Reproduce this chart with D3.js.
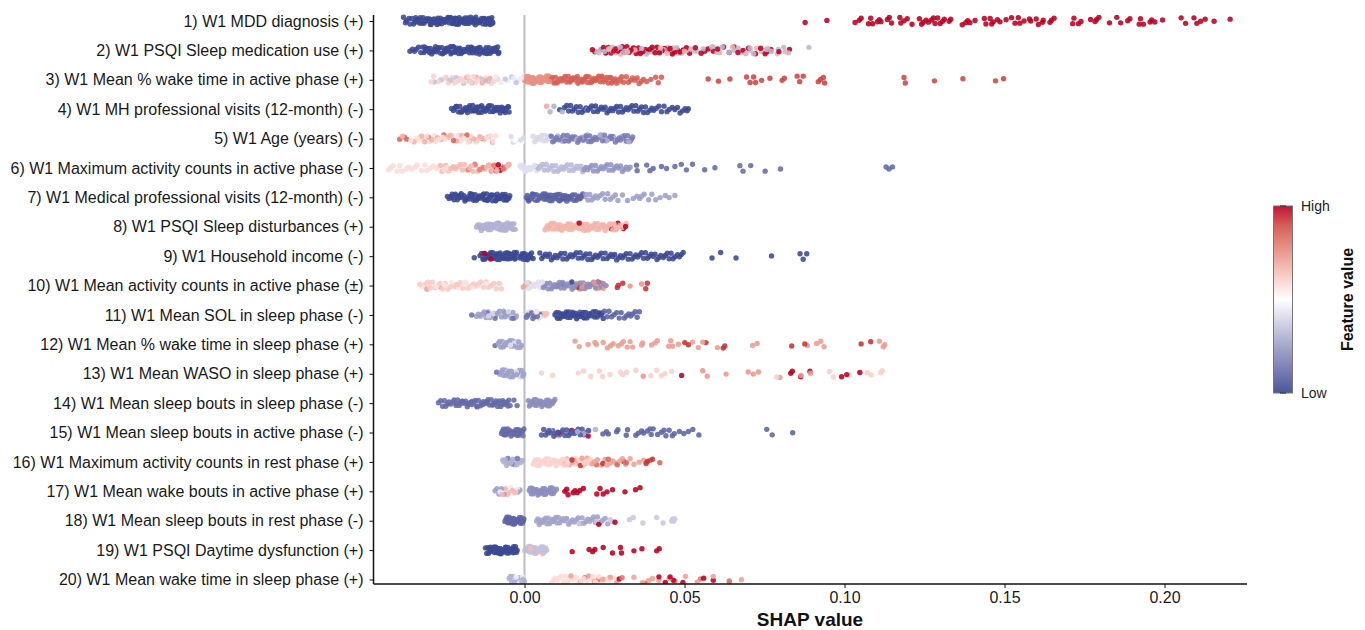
<!DOCTYPE html>
<html lang="en">
<head>
<meta charset="UTF-8">
<title>SHAP summary</title>
<script src="https://d3js.org/d3.v7.min.js"></script>
<style>
  body { margin: 0; background: #fff; font-family: "Liberation Sans", Arial, sans-serif; }
  .tick text { font-size: 16px; fill: #1a1a1a; }
  .domain, .tick line { stroke: #111; }
</style>
</head>
<body>
<script>
const labels = [
  "1) W1 MDD diagnosis (+)",
  "2) W1 PSQI Sleep medication use (+)",
  "3) W1 Mean % wake time in active phase (+)",
  "4) W1 MH professional visits (12-month) (-)",
  "5) W1 Age (years) (-)",
  "6) W1 Maximum activity counts in active phase (-)",
  "7) W1 Medical professional visits (12-month) (-)",
  "8) W1 PSQI Sleep disturbances (+)",
  "9) W1 Household income (-)",
  "10) W1 Mean activity counts in active phase (±)",
  "11) W1 Mean SOL in sleep phase (-)",
  "12) W1 Mean % wake time in sleep phase (+)",
  "13) W1 Mean WASO in sleep phase (+)",
  "14) W1 Mean sleep bouts in sleep phase (-)",
  "15) W1 Mean sleep bouts in active phase (-)",
  "16) W1 Maximum activity counts in rest phase (+)",
  "17) W1 Mean wake bouts in active phase (+)",
  "18) W1 Mean sleep bouts in rest phase (-)",
  "19) W1 PSQI Daytime dysfunction (+)",
  "20) W1 Mean wake time in sleep phase (+)"
];
const xTicks = [0, 0.05, 0.10, 0.15, 0.20];

// each row: [feature value 0-1, [shap values x 10000]]
const row01 = [
  [0, [-378,-372,-369,-361,-358,-352,-347,-343,-338,-335,-330,-326,-321,-317,-314,-309,-305,-300,-297,-292,-288,-284,-279,-276,-271,-268,-263,-259,-255,-251,-247,-243,-239,-235,-231,-227,-222,-219,-214,-211,-206,-203,-198,-195,-190,-186,-182,-178,-174,-170,-166,-162,-158,-154,-150,-146,-142,-138,-134,-130,-126,-122,-118,-114,-110,-106,-102,-99]],
  [0, [-340,-328,-315,-303,-294,-283,-274,-265,-257,-249,-241,-233,-225,-217,-209,-201,-193,-184,-176,-168,-160,-152,-144,-136,-128,-120,-112,-104,-100,-290,-272,-253,-237,-220,-204,-188,-172,-156,-140,-124,-108]],
  [1, [877,945,1033,1046,1052,1075,1082,1088,1103,1109,1114,1134,1140,1147,1173,1176,1186,1196,1211,1234,1241,1246,1255,1262,1272,1278,1283,1291,1299,1307,1312,1327,1332,1368,1379,1385,1392,1408,1437,1442,1455,1460,1465,1478,1486,1505,1522,1533,1543,1548,1561,1578,1582,1599,1606,1619,1621,1642,1647,1655,1713,1717,1731,1739,1769,1783,1788,1795,1828,1851,1863,1885,1892,1921,1925,1934,1955,1960,1970,1994,2052,2066,2092,2101,2113,2127,2155,2205]]
];
const row02 = [
  [0, [-358,-350,-344,-338,-331,-324,-319,-314,-309,-303,-299,-294,-290,-285,-281,-276,-272,-267,-263,-258,-254,-250,-245,-241,-237,-232,-228,-224,-219,-215,-211,-206,-202,-198,-193,-189,-185,-180,-176,-172,-167,-163,-159,-154,-150,-146,-141,-137,-133,-128,-124,-120,-115,-111,-107,-102,-98,-94,-89,-84,-80]],
  [0, [-312,-297,-283,-270,-256,-243,-230,-217,-204,-191,-178,-165,-152,-139,-126,-113,-100,-87,-305,-278,-248,-222,-196,-170,-144,-118,-92,-82]],
  [0.32, [224,238,250,262,275,287,299,311,325,338,352,366,381,396,410,424,436,448,462,476,491,505,518,532,558,585,602,618,640,655,668,692,705,716,740,757,772,793,810,825,889]],
  [0.68, [232,255,265,275,288,300,322,345,372,402,425,445,465,482,500,520,540,565,590,610,650,680,705,725,748,760,790,815]],
  [1, [212,220,240,247,254,262,270,278,285,292,298,306,312,320,327,333,341,349,356,362,370,378,384,392,399,408,414,422,430,438,446,455,462,470,478,486,496,506,516,534,552,563,574,590,604,622,640,655,667,683,700,722,738,752,758,770,795,828]]
];
const row03 = [
  [0.35, [-282,-262,-245,-229,-214,-190,-172,-136,-112,-60,-40,-26]],
  [0.45, [-90,-74,-52,-34,-20,-10,-3]],
  [0.6, [-292,-284,-270,-255,-248,-238,-226,-218,-208,-199,-192,-184,-176,-168,-160,-152,-146,-138,-128,-120,-104,-96,-84]],
  [0.7, [-235,-205,-180,-165,-150,-132,-122,-108]],
  [0.76, [0,3,6,9,12,15,18,21,24,27,30,33,36,39,42,45,48,51,54,57,60,63,66,69,72,75,78]],
  [0.87, [82,87,92,97,102,107,112,117,122,127,132,137,142,147,152,157,162,167,172,177,182,187,192,197,202,207,212,217,222,227,232,237,242,247,252,257,262,267,272,277,283,290,298,304,310,318,325,332,338,345,352,358,365,372,382,395,410,418,428]],
  [0.85, [96,110,124,138,150,165,180,194,210,224,240,255,270,288,300]],
  [0.92, [574,606,642,694,705,716,722,741,767,805,812,852,860,871,918,925,934,938,1186,1190,1281,1370,1472,1497]]
];
const row04 = [
  [0, [-228,-222,-218,-212,-206,-202,-196,-190,-184,-180,-175,-171,-166,-162,-157,-153,-148,-144,-139,-135,-130,-126,-121,-117,-112,-108,-103,-99,-94,-90,-85,-81,-76,-72,-67,-62,-57,-52,-48]],
  [0, [-214,-199,-186,-173,-160,-147,-134,-123,-110,-97,-84,-71,-60,-50,-178,-150,-114,-88,-64]],
  [0.7, [69]],
  [0.3, [80,92,118,196,220]],
  [0, [110,125,132,138,144,150,156,162,168,174,180,186,192,198,204,210,216,222,228,234,240,246,252,258,264,270,276,282,288,294,300,306,312,318,324,330,336,342,348,354,360,366,372,378,384,392,398,404,412,420,428,436,445,452,462,470,478,486,494,502,508,512]]
];
const row05 = [
  [0.85, [-390,-375,-368,-300,-252,-222,-180,-150,-132]],
  [0.68, [-382,-345,-322,-312,-290,-272,-262,-242,-232,-212,-196,-172,-158,-140,-125,-112,-100]],
  [0.58, [-355,-335,-330,-318,-305,-296,-282,-278,-268,-256,-248,-238,-226,-216,-206,-200,-190,-184,-176,-166,-154,-146,-136,-128,-118,-106,-96,-90]],
  [0.5, [-85,-78,-72,-65,-58,-52,-44,-38,-30,-24,-16,-8]],
  [0.4, [27,32,36,41,45,50,54,59,63,68,72,76,80,-42,-35,-28,-20,-12,-3]],
  [0.3, [82,92,104,118,130,146,162,180,196,212,236,258,280,304,326]],
  [0.15, [84,88,96,100,108,112,122,126,134,138,142,150,154,158,166,170,174,184,188,192,200,204,208,216,220,226,232,240,244,250,254,262,268,272,276,284,290,296,300,308,312,318,322,330,334,338]]
];
const row06 = [
  [0.58, [-425,-418,-410,-398,-390,-382,-370,-362,-352,-342,-335,-322,-312,-305,-295,-285,-275,-268,-260,-252,-242,-235,-225]],
  [0.66, [-262,-256,-246,-238,-230,-222,-215,-208,-200,-194,-188,-180,-172,-166,-160,-152,-146,-138,-132,-124,-118,-110,-102,-94,-86,-78,-70,-62,-54,-48]],
  [0.8, [-175,-155,-140,-128,-112,-104,-96,-88,-80,-74,-66,-58,-50]],
  [1, [-90,-82,-76,-68]],
  [0.42, [-14,-8,-3,2,8,14,20,26,32,38,-12,5,18]],
  [0.32, [38,44,50,56,62,68,74,80,86,92,98,104,110,116,122,128,134,140,146,152,158,164,170,176,182]],
  [0.22, [186,192,198,204,210,216,222,228,234,240,246,252,258,264,270,276,282,288,294,300,306,312,318,324,330]],
  [0.1, [350,352,382,392,402,428,444,470,490,506,525,563,595,673,683,707,752,800,1130,1139,1150]]
];
const row07 = [
  [0, [-241,-236,-230,-226,-220,-216,-210,-206,-200,-196,-190,-186,-181,-177,-172,-168,-163,-159,-154,-150,-145,-141,-136,-132,-127,-123,-118,-114,-109,-105,-100,-96,-91,-87,-82,-78,-73,-69,-64,-60,-55,-51,-46]],
  [0, [-228,-213,-198,-184,-170,-156,-143,-130,-116,-103,-89,-76,-62,-49,-205,-165,-125,-85,-58]],
  [0.55, [30,350]],
  [0.08, [6,9,13,16,20,23,27,30,34,37,41,44,48,51,55,58,62,65,69,72,76,79,83,86,90,93,97,100,104,107,111,114,118,121,125,128,132,135,139,142,146,150,154,158,162,166,170,174,178,182]],
  [0.05, [11,25,39,53,67,81,95,109,123,137]],
  [0.9, [172]],
  [0.25, [186,192,198,204,210,216,222,228,236,244,252,260,268,276,284,292,306,322,340,352,360,366,374,388,398,410,424,440,452,470]]
];
const row08 = [
  [0.3, [-150,-146,-142,-139,-135,-131,-128,-124,-120,-117,-113,-110,-106,-102,-99,-95,-91,-88,-84,-80,-77,-73,-69,-66,-62,-58,-55,-51,-47,-44,-40,-36,-33,-29]],
  [0.3, [-140,-126,-112,-97,-82,-68,-53,-38,-132,-104,-75,-46]],
  [0.67, [64,68,72,76,80,84,88,92,96,100,104,108,112,116,120,124,128,132,136,140,144,148,152,156,160,164,168,172,176,180,184,188,192,196,200,204,208,212,216,220,224,228,232,236,240,244,248,252,256,260,264,268,272,276,280,286,292,298,304,310,318]],
  [0.67, [74,90,106,122,138,154,170,186,202,218,234,250,266,282,82,114,146,178,210,242]],
  [1, [171,272,292,309,316]]
];
const row09 = [
  [0, [-157,-139,-134,-130,-127,-123,-120,-116,-113,-109,-106,-102,-99,-95,-92,-88,-85,-81,-78,-74,-71,-67,-64,-60,-57,-53,-50,-46,-43,-39,-36,-32,-29,-25,-14,-11,-7,-4,0,4,7,11,14,18,22,27,48,54,60,66,72,78,84,90,96,102,108,114,120,126,132,138,144,150,156,162,168,174,180,186,192,198,204,210,216,222,228,234,240,246,252,258,264,270,276,282,288,294,300,306,312,318,324,330,336,342,348,354,360,366,372,378,384,390,396,402,408,414,420,426,434,440,446,452,458,464,470,478,484,490,496,586,613,661,772,861,871,882]],
  [0, [-128,-118,-108,-97,-86,-76,-65,-55,-44,-34,-27,-12,-2,9,20,-112,-90,-70,-48,-30]],
  [1, [-124,-106,-90]]
];
const row10 = [
  [0.62, [-327,-318,-310,-302,-295,-288,-280,-272,-264,-256,-248,-240,-232,-224,-216,-208,-200,-192,-184,-176,-168,-160,-152,-144,-136,-128,-120,-112,-104,-96,-88,-80,-72]],
  [0.56, [-320,-298,-276,-252,-228,-206,-186,-164,-142,-120,-98,-76]],
  [0.72, [-305,-262,-212,-4,4,12]],
  [0.42, [2,8,14,20,26,32,38,44,50,56]],
  [0.2, [59,64,69,74,79,84,89,94,99,104,109,114,119,124,129,134,139,144,149,154,159,164,169,174,179,184,189,194,199,204,210,216,222,228,234,240,246,255]],
  [0.75, [163,172,180,190,200,208,218,226,238,246,330,366]],
  [0, [104,120,148]],
  [0.95, [170,230,290,293,307,379,384]]
];
const row11 = [
  [0.12, [-165,-118,-92,-60,-36]],
  [0.25, [-150,-144,-138,-132,-126,-120,-114,-108,-102,-96,-90,-84,-78,-72,-66,-60,-54,-48,-42,-36,-30,-25]],
  [0.4, [-130,-112,-98,-80,-68,-50]],
  [0.12, [6,10,14,18,22,26,30,34,40,48]],
  [0.65, [20,28,36,44,52,58,64,69]],
  [0.45, [14,24,38,50]],
  [0, [95,99,103,107,111,115,119,123,127,131,135,139,143,147,151,155,159,163,167,171,175,179,183,187,191,195,199,203,207,211,215,219,223,227,231,235,239,243,246]],
  [0.05, [101,113,125,137,149,161,173,185,197,209,221,233]],
  [0.08, [250,258,264,272,280,288,296,302,312,318,326,332,338,346,352,359]]
];
const row12 = [
  [0.12, [-92]],
  [0.25, [-82,-78,-74,-70,-66,-62,-58,-54,-50,-46,-42,-38,-34,-30,-26,-22,-18,-14,-9]],
  [0.42, [-60,-44,-32,-20,-12]],
  [0.73, [158,171,199,220,225,246,259,269,277,293,303,309,321,330,338,366,369,397,408,415,451,457,463,481,525,543,557,603,713,727,884,913,926,936,1109,1121,1126]],
  [0.95, [501,512,567,621,626,876,835,1052,1082]]
];
const row13 = [
  [0.12, [-87]],
  [0.25, [-77,-73,-69,-65,-61,-57,-53,-49,-45,-41,-37,-33,-29,-25,-21,-17,-13,-9,-5,-2]],
  [0.42, [-52,-38,-26,-14,-6]],
  [0.61, [53,88,168,184,207,234,244,267,300,307,319,348,395,413,428,439,460,788,953,965,1015,1071,1083,1113,1118]],
  [0.74, [371,557,571,630,699,715,731,798,864,894]],
  [1, [491,832,837,863,892,991,1007,1048]]
];
const row14 = [
  [0.1, [-269,-262,-256,-250,-246,-240,-236,-230,-224,-220,-214,-209,-204,-199,-194,-189,-184,-179,-174,-169,-164,-159,-154,-149,-144,-139,-134,-129,-124,-119,-114,-109,-104,-99,-94,-89,-84,-79,-74,-69,-64,-59,-54,-49,-45,-33,-23]],
  [0.1, [-212,-196,-180,-164,-148,-132,-116,-100,-84,-68,-52]],
  [0.2, [12,15,18,21,24,27,30,33,36,39,42,45,48,51,54,57,60,63,66,69,72,75,78,81,84,87,91,95]]
];
const row15 = [
  [0.1, [-72,-69,-66,-63,-60,-57,-54,-51,-48,-45,-42,-39,-36,-33,-30,-27,-24,-21,-18,-15,-12,-9,-6,-2]],
  [0.12, [-64,-52,-40,-28,-16,-5]],
  [0.3, [80,108,130,166,184,200,222]],
  [0.05, [53,60,66,72,76,82,88,92,98,104,110,116,120,126,132,138,144,150,156,162,168,174,180,186,192,200]],
  [1, [105,147,199]],
  [0.08, [245,256,262,288,292,318,322,348,356,366,372,384,392,396,402,416,428,436,442,452,462,468,484,498,512,526,545,757,774,838]]
];
const row16 = [
  [0.3, [-68,-64,-60,-56,-52,-48,-44,-40,-36,-32,-28,-24,-20,-16,-12,-6]],
  [0.15, [-52,-38,-22]],
  [0.6, [27,31,35,39,43,47,51,55,59,63,67,71,75,79,83,87,91,95,99,103,107,111,115,119,123,127,131,135,139,143,147,151,155,159,163,167,171,175,179,183,187,191,195,199,205]],
  [0.72, [125,132,140,148,156,164,172,180,188,196,210,218,228,240,252,258,268,276,285,298,306,316,330,342,358,372]],
  [0.95, [122,148,175,245,310,380,384,400]],
  [0.85, [225,262,290,318,392,423]]
];
const row17 = [
  [0.25, [-92,-86,-80,-72,-64,-20,-14]],
  [0.45, [-76,-68,-58,-50,-42,-36,-28,-22]],
  [0.66, [-70,-60,-54,-46,-38,-30]],
  [0.2, [15,18,21,24,27,30,33,36,39,42,45,48,51,54,57,60,63,66,69,72,75,78,81,84,87,90,94,100]],
  [1, [126,132,136,152,158,165,173,184,226,236,246,258,275,314,347,361]]
];
const row18 = [
  [0.08, [-61,-58,-55,-52,-49,-46,-43,-40,-37,-34,-31,-28,-25,-22,-19,-16,-13,-10,-7,-4,-2]],
  [0.26, [38,42,46,50,54,58,62,66,70,74,78,82,86,90,94,98,102,106,110,114,120,126,132,138,144,150,156,162,168,174,180,186,192,198,204,210,216,222,228,236,244,252,260]],
  [0.36, [130,170,225,268,276,328,340,370,413,433,460,463,466,470]],
  [1, [232,283]]
];
const row19 = [
  [0, [-122,-118,-115,-112,-109,-106,-103,-100,-97,-94,-91,-88,-85,-82,-79,-76,-73,-70,-67,-64,-61,-58,-55,-52,-49,-46,-43,-40,-37,-34,-31,-28,-25,-23]],
  [0, [-113,-101,-89,-77,-65,-53,-41,-29,-107,-83,-59,-35]],
  [0.34, [1,4,7,10,13,16,19,22,25,28,31,34,37,40,43,46,49,52,55,58,61,64,67,69]],
  [0.66, [20,56]],
  [1, [149,202,213,220,246,275,300,303,342,367,413,421]]
];
const row20 = [
  [0.3, [-48,-44,-40,-36,-32,-28,-24,-20,-16,-12,-8,-4,0]],
  [0.46, [-38,-26,-14,-6]],
  [0.58, [85,90,95,102,108,115,122,128,135,142,148,155,162,170,178,186,195,205,214,222,232,240,252,262,270,280]],
  [0.72, [145,176,200,218,245,268,288,342,368,388,400,420,452,503,540,590,640,678]],
  [0.82, [188,230,305,376,470,550,640]],
  [1, [296,420,440,455,495,465,560,590]]
];
const rows = [row01, row02, row03, row04, row05, row06, row07, row08, row09, row10,
  row11, row12, row13, row14, row15, row16, row17, row18, row19, row20];

const width = 1365, height = 630;
const margin = { left: 373.5, right: 1247, top: 15, bottom: 584 };

const svg = d3.select("body").append("svg")
  .attr("width", width).attr("height", height);

const x = d3.scaleLinear().domain([0, 0.05]).range([524.5, 684.5]);
const y = d3.scalePoint().domain(labels).range([21, 579.5]);
const color = d3.scaleLinear().domain([0, 0.5, 1])
  .range(["#3B4992", "#FFFFFF", "#BB0021"])
  .interpolate(d3.interpolateLab);
const jitter = d3.scaleLinear().domain([0, 1]).range([-3.8, 3.8]);

svg.append("defs").append("clipPath").attr("id", "panel")
  .append("rect").attr("x", margin.left).attr("y", 0)
  .attr("width", margin.right - margin.left).attr("height", margin.bottom);

// zero line sits under the points
svg.append("line")
  .attr("x1", x(0)).attr("x2", x(0))
  .attr("y1", margin.top).attr("y2", margin.bottom)
  .attr("stroke", "#bdbdbd").attr("stroke-width", 2);

const points = [];
rows.forEach((row, r) => {
  let n = r * 7;
  row.forEach(([value, shap]) => {
    shap.forEach(s => {
      points.push({ label: labels[r], shap: s / 10000, value, n: n++ });
    });
  });
});
// mix the draw order so no colour group always lands on top
points.sort((a, b) => (a.n * 0.754878) % 1 - (b.n * 0.754878) % 1);

// vertical spread is only layout, two mixed sequences so no braid shows up
const spread = n => (n * 0.618034 + 0.45 * ((n * 2.236068) % 1)) % 1;

svg.append("g").attr("clip-path", "url(#panel)")
  .selectAll("circle")
  .data(points)
  .join("circle")
  .attr("cx", d => x(d.shap))
  .attr("cy", d => y(d.label) + jitter(spread(d.n)))
  .attr("r", 2.7)
  .attr("fill", d => color(d.value))
  .attr("fill-opacity", 0.88);

// axes
const yAxis = d3.axisLeft(y).tickSize(4).tickPadding(6);
const gy = svg.append("g").attr("transform", `translate(${margin.left},0)`).call(yAxis);
gy.select(".domain").attr("d", `M0,${margin.top}V${margin.bottom}`).attr("stroke-width", 1.5);

const xAxis = d3.axisBottom(x).tickValues(xTicks).tickFormat(d3.format(".2f")).tickSize(4).tickPadding(4);
const gx = svg.append("g").attr("transform", `translate(0,${margin.bottom})`).call(xAxis);
gx.select(".domain").attr("d", `M${margin.left},0H${margin.right}`).attr("stroke-width", 1.5);

svg.append("text")
  .attr("x", 810).attr("y", 626)
  .attr("text-anchor", "middle")
  .attr("font-size", 19).attr("font-weight", "bold").attr("fill", "#111")
  .text("SHAP value");

// colour bar
const legendY = d3.scaleLinear().domain([0, 1]).range([393, 206]);
const grad = svg.select("defs").append("linearGradient")
  .attr("id", "bar").attr("x1", 0).attr("x2", 0).attr("y1", 1).attr("y2", 0);
d3.range(0, 1.01, 0.1).forEach(t => {
  grad.append("stop").attr("offset", t).attr("stop-color", color(t)).attr("stop-opacity", 0.92);
});
svg.append("rect")
  .attr("x", 1273.5).attr("y", legendY(1))
  .attr("width", 19).attr("height", legendY(0) - legendY(1))
  .attr("fill", "url(#bar)").attr("stroke", "#777").attr("stroke-width", 1);
svg.selectAll(".legtick").data([0, 1]).join("line")
  .attr("class", "legtick")
  .attr("x1", 1280).attr("x2", 1286)
  .attr("y1", legendY).attr("y2", legendY)
  .attr("stroke", "#222");
svg.selectAll(".leglab").data([[1, "High"], [0, "Low"]]).join("text")
  .attr("class", "leglab")
  .attr("x", 1301).attr("y", d => legendY(d[0]))
  .attr("dy", "0.35em")
  .attr("font-size", 14).attr("fill", "#222")
  .text(d => d[1]);
svg.append("text")
  .attr("transform", "translate(1353,299.5) rotate(-90)")
  .attr("text-anchor", "middle")
  .attr("font-size", 16).attr("font-weight", "bold").attr("fill", "#111")
  .text("Feature value");
</script>
</body>
</html>
